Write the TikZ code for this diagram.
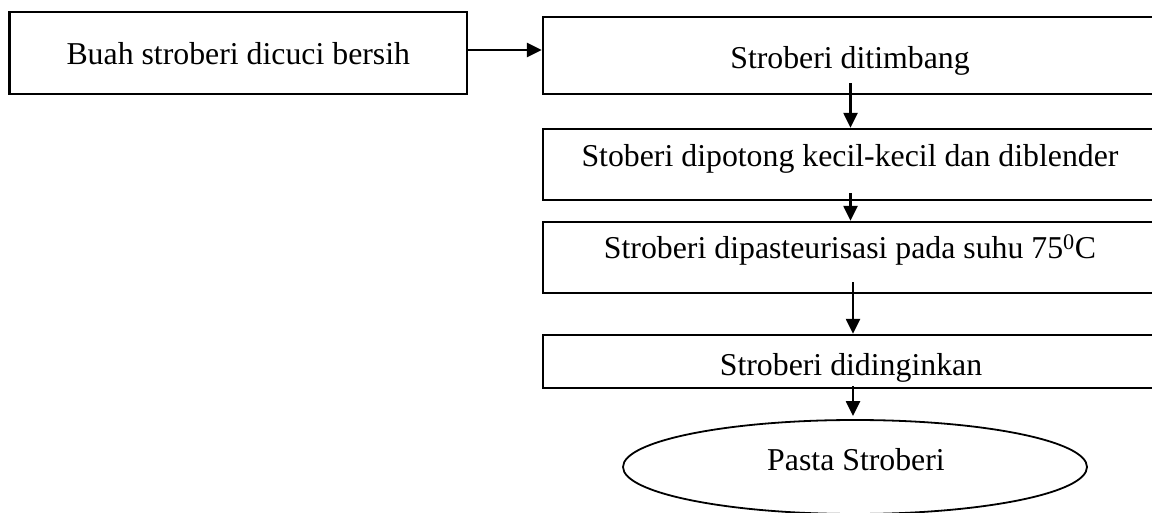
\documentclass[tikz,border=0pt]{standalone}
\usepackage{fontspec}
\setmainfont{Liberation Serif}
\usetikzlibrary{arrows.meta,shapes.geometric}
\tikzset{
  stepbox/.style={draw=black, line width=2.3pt, rectangle, inner sep=0pt, fill=white},
  txt/.style={inner sep=0pt, anchor=base, font=\fontsize{31.8}{38}\selectfont},
  arr/.style={line width=2.3pt, -{Triangle[length=15pt,width=14pt]}},
  endnode/.style={draw=black, line width=1.8pt, ellipse, inner sep=0pt}
}
\begin{document}
\begin{tikzpicture}[x=1pt,y=-1pt]
\useasboundingbox (0,0) rectangle (1152,513);
\clip (0,0) rectangle (1152,513);
\fill[white] (0,0) rectangle (1152,513);
% boxes
\node[stepbox, minimum width=457.4pt, minimum height=82pt] (b1) at (238.3,53) {};
\node[stepbox, minimum width=615pt, minimum height=77pt] (b2) at (850.5,55.5) {};
\node[stepbox, minimum width=615pt, minimum height=71pt] (b3) at (850.5,164.5) {};
\node[stepbox, minimum width=615pt, minimum height=71pt] (b4) at (850.5,257.5) {};
\node[stepbox, minimum width=615pt, minimum height=53pt] (b5) at (850.5,361.5) {};
\node[endnode, minimum width=464pt, minimum height=94pt] (el) at (855,467) {};
% texts
\node[txt] (t1) at (238.3,65) {Buah stroberi dicuci bersih};
\node[txt] (t2) at (850,69) {Stroberi ditimbang};
\node[txt] (t3) at (850,167) {Stoberi dipotong kecil-kecil dan diblender};
\node[txt] (t4) at (850,259) {Stroberi dipasteurisasi pada suhu 75\textsuperscript{0}C};
\node[txt] (t5) at (851,375) {Stroberi didinginkan};
\node[txt] (t6) at (856,470) {Pasta Stroberi};
% connectors
\draw[arr] ([yshift=3pt]b1.east) -- ([yshift=3pt]b1.east -| b2.west);
\draw[arr] ([yshift=12pt]b2.south) -- (b3.north);
\draw[arr] ([yshift=8pt]b3.south) -- (b4.north);
\draw[arr] ([xshift=2.5pt,yshift=12pt]b4.south) -- ([xshift=2.5pt]b5.north);
\draw[arr] ([xshift=2.5pt,yshift=3pt]b5.south) -- ([xshift=2.5pt,yshift=3pt]b5.south |- el.north);
\end{tikzpicture}
\end{document}
